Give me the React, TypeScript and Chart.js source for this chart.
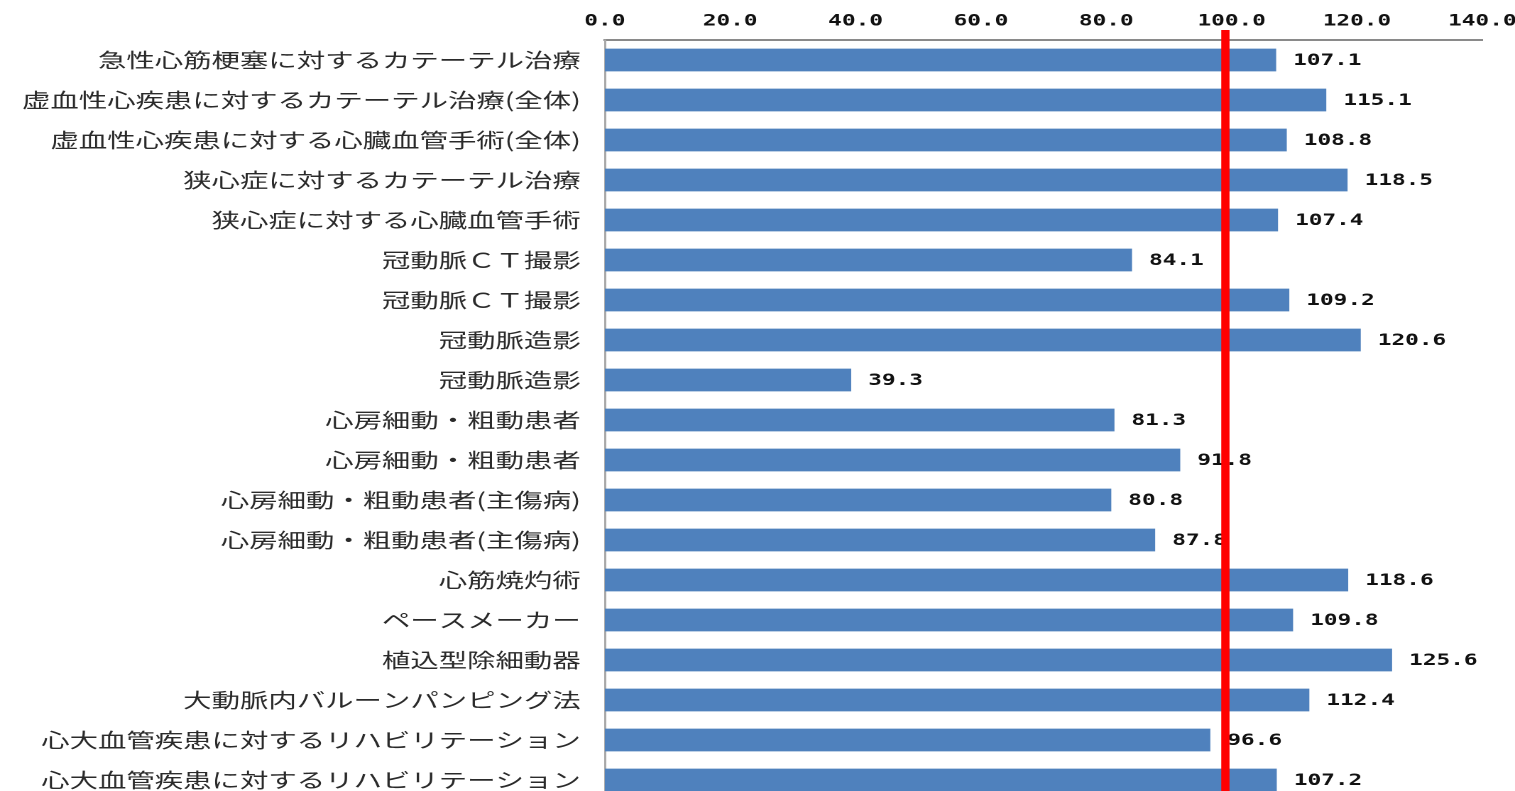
import { useEffect, useRef } from "react";
import { Chart, registerables } from "chart.js";

Chart.register(...registerables);

const categories = [
  "急性心筋梗塞に対するカテーテル治療",
  "虚血性心疾患に対するカテーテル治療(全体)",
  "虚血性心疾患に対する心臓血管手術(全体)",
  "狭心症に対するカテーテル治療",
  "狭心症に対する心臓血管手術",
  "冠動脈ＣＴ撮影",
  "冠動脈ＣＴ撮影",
  "冠動脈造影",
  "冠動脈造影",
  "心房細動・粗動患者",
  "心房細動・粗動患者",
  "心房細動・粗動患者(主傷病)",
  "心房細動・粗動患者(主傷病)",
  "心筋焼灼術",
  "ペースメーカー",
  "植込型除細動器",
  "大動脈内バルーンパンピング法",
  "心大血管疾患に対するリハビリテーション",
  "心大血管疾患に対するリハビリテーション",
];

const values = [
  107.1, 115.1, 108.8, 118.5, 107.4, 84.1, 109.2, 120.6, 39.3, 81.3, 91.8,
  80.8, 87.8, 118.6, 109.8, 125.6, 112.4, 96.6, 107.2,
];

const xTickMin = 0;
const xTickMax = 140;
const xTickStep = 20;

const referenceLineValue = 99;

const CANVAS_W = 1067;
const CANVAS_H = 800;
const STRETCH = 1515 / CANVAS_W;

const overlayPlugin = {
  id: "overlay",
  afterDatasetsDraw(chart: any) {
    const { ctx } = chart;
    const meta = chart.getDatasetMeta(0);
    const data = chart.data.datasets[0].data as number[];
    ctx.save();
    ctx.font = 'bold 16px "DejaVu Sans Mono"';
    ctx.fillStyle = "#111";
    ctx.textAlign = "left";
    ctx.textBaseline = "middle";
    meta.data.forEach((bar: any, i: number) => {
      ctx.fillText(Number(data[i]).toFixed(1), bar.x + 12, bar.y + 1);
    });
    const x = chart.scales.x.getPixelForValue(referenceLineValue);
    ctx.fillStyle = "#ff0000";
    ctx.fillRect(x - 2.9, 30, 5.8, chart.height - 30);
    ctx.restore();
  },
};

export default function App() {
  const canvasRef = useRef<HTMLCanvasElement | null>(null);

  useEffect(() => {
    if (!canvasRef.current) return;
    const chart = new Chart(canvasRef.current, {
      type: "bar",
      data: {
        labels: categories,
        datasets: [
          {
            data: values,
            backgroundColor: "#4f81bd",
            borderWidth: 0,
            barPercentage: 0.57,
            categoryPercentage: 1,
          },
        ],
      },
      options: {
        indexAxis: "y",
        animation: false,
        responsive: false,
        devicePixelRatio: 2,
        layout: { padding: { left: 0, right: 23, top: 0, bottom: 0 } },
        plugins: {
          legend: { display: false },
          tooltip: { enabled: false },
        },
        scales: {
          x: {
            position: "top",
            min: xTickMin,
            max: xTickMax,
            grid: { display: false, drawTicks: false },
            border: { display: true, color: "#8a8a8a", width: 2 },
            ticks: {
              stepSize: xTickStep,
              padding: 9,
              color: "#111",
              font: { family: '"DejaVu Sans Mono"', size: 16, weight: "bold" },
              callback: (v: any) => Number(v).toFixed(1),
            },
            afterFit: (scale: any) => {
              scale.height = 40;
              scale.paddingLeft = 0;
              scale.paddingRight = 0;
            },
          },
          y: {
            grid: { display: false, drawTicks: false },
            border: { display: true, color: "#a8a8a8", width: 1.5 },
            ticks: {
              padding: 17,
              color: "#2a2a2a",
              font: { family: '"Noto Sans CJK JP"', size: 20 },
            },
            afterFit: (scale: any) => {
              scale.width = 426;
              scale.paddingTop = 0;
              scale.paddingBottom = 0;
            },
          },
        },
      },
      plugins: [overlayPlugin],
    });
    return () => chart.destroy();
  }, []);

  return (
    <div
      style={{
        position: "absolute",
        left: 0,
        top: 0,
        width: 1515,
        height: 791,
        overflow: "hidden",
        background: "#fff",
      }}
    >
      <div
        style={{
          width: CANVAS_W,
          height: CANVAS_H,
          transform: `scaleX(${STRETCH})`,
          transformOrigin: "0 0",
        }}
      >
        <canvas
          ref={canvasRef}
          width={CANVAS_W}
          height={CANVAS_H}
          style={{ display: "block", width: CANVAS_W, height: CANVAS_H }}
        />
      </div>
    </div>
  );
}
